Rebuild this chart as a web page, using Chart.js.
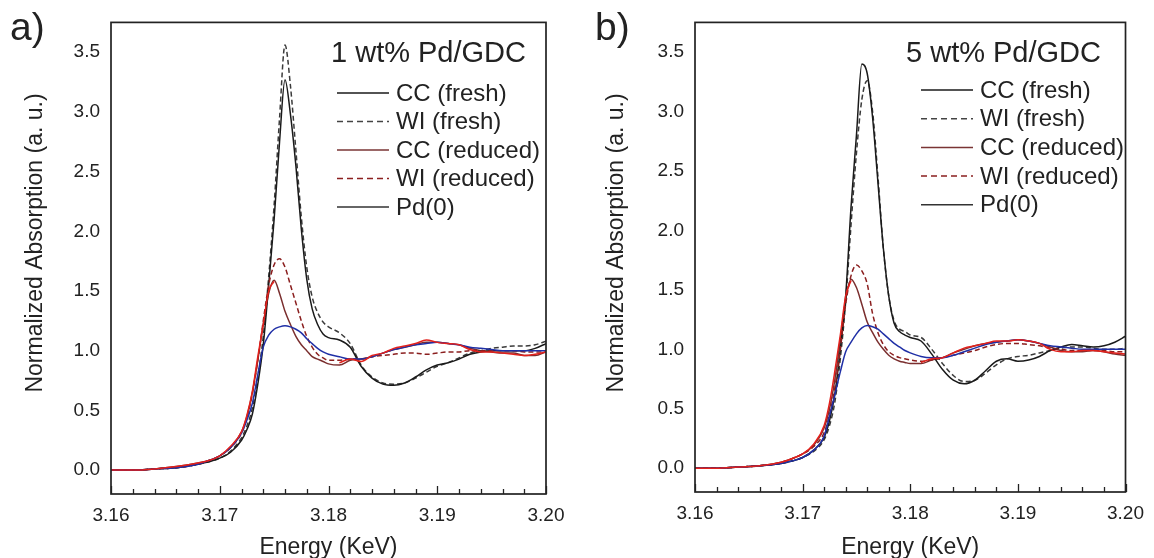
<!DOCTYPE html>
<html>
<head>
<meta charset="utf-8">
<script src="https://cdn.jsdelivr.net/npm/chart.js@4.4.1/dist/chart.umd.min.js"></script>
<style>
  body { margin: 0; background: #fff; width: 1154px; height: 558px; overflow: hidden; position: relative; }
  canvas { position: absolute; top: 0; }
</style>
</head>
<body>
<canvas id="panelA" width="577" height="558" style="left:0"></canvas>
<canvas id="panelB" width="577" height="558" style="left:577px"></canvas>
<script>
// Energy grid (KeV), shared by both panels
const energy = [
  3.160, 3.162, 3.164, 3.166, 3.168,
  3.169, 3.170, 3.171, 3.172,
  3.1725, 3.173, 3.1735, 3.174, 3.1745, 3.175, 3.1755, 3.176, 3.1765, 3.177, 3.1775, 3.178, 3.1785, 3.179, 3.1795, 3.180,
  3.181, 3.182, 3.183, 3.184, 3.185, 3.186, 3.187, 3.188, 3.189, 3.190,
  3.191, 3.192, 3.193, 3.194, 3.195, 3.196, 3.197, 3.198, 3.199, 3.200
];
const seriesNames = ['CC (fresh)', 'WI (fresh)', 'CC (reduced)', 'WI (reduced)', 'Pd(0)'];
const xTicks = [3.16, 3.17, 3.18, 3.19, 3.20];
const yTicks = [0, 0.5, 1.0, 1.5, 2.0, 2.5, 3.0, 3.5];

// a) 1 wt% Pd/GDC
const aCcFresh = [
  0.00, 0.00, 0.01, 0.02, 0.05,
  0.07, 0.10, 0.15, 0.25,
  0.34, 0.47, 0.72, 1.05, 1.55, 2.10, 2.75, 3.27, 2.98, 2.55, 2.02, 1.60, 1.35, 1.22, 1.14, 1.11,
  1.09, 1.03, 0.87, 0.77, 0.72, 0.71, 0.73, 0.78, 0.84, 0.88,
  0.90, 0.93, 0.97, 0.99, 1.00, 1.00, 1.00, 1.00, 1.02, 1.06
];
const aWiFresh = [
  0.00, 0.00, 0.01, 0.02, 0.05,
  0.07, 0.10, 0.16, 0.27,
  0.37, 0.52, 0.78, 1.12, 1.62, 2.22, 2.95, 3.56, 3.22, 2.68, 2.12, 1.70, 1.45, 1.32, 1.24, 1.20,
  1.15, 1.06, 0.88, 0.78, 0.73, 0.72, 0.73, 0.77, 0.82, 0.87,
  0.90, 0.94, 0.98, 1.00, 1.02, 1.03, 1.04, 1.04, 1.05, 1.08
];
const aCcReduced = [
  0.00, 0.00, 0.01, 0.03, 0.06,
  0.08, 0.12, 0.19, 0.32,
  0.45, 0.65, 0.92, 1.22, 1.48, 1.59, 1.48, 1.33, 1.22, 1.12, 1.05, 1.00, 0.95, 0.93, 0.91, 0.89,
  0.88, 0.92, 0.93, 0.95, 0.98, 1.01, 1.03, 1.05, 1.07, 1.07,
  1.06, 1.05, 1.02, 1.00, 0.99, 0.98, 0.98, 0.96, 0.96, 0.99
];
const aWiReduced = [
  0.00, 0.00, 0.01, 0.02, 0.05,
  0.08, 0.12, 0.19, 0.31,
  0.44, 0.64, 0.92, 1.25, 1.55, 1.72, 1.77, 1.70, 1.55, 1.40, 1.25, 1.12, 1.03, 0.97, 0.94, 0.92,
  0.92, 0.93, 0.93, 0.95, 0.96, 0.97, 0.98, 0.98, 0.97, 0.98,
  0.99, 0.99, 1.00, 1.00, 1.00, 1.00, 1.00, 0.99, 0.99, 0.99
];
const aPd0 = [
  0.00, 0.00, 0.01, 0.02, 0.05,
  0.08, 0.12, 0.19, 0.31,
  0.42, 0.56, 0.80, 1.03, 1.13, 1.18, 1.20, 1.21, 1.20, 1.18, 1.15, 1.10, 1.06, 1.02, 0.99, 0.97,
  0.95, 0.93, 0.93, 0.95, 0.98, 1.01, 1.03, 1.05, 1.06, 1.07,
  1.06, 1.05, 1.03, 1.02, 1.01, 1.00, 1.00, 1.00, 1.00, 1.00
];
// red trace drawn over the reduced CC curve (no legend entry)
const aOverlay = [
  0.00, 0.00, 0.01, 0.03, 0.06,
  0.08, 0.12, 0.20, 0.32,
  0.46, 0.66, 0.95, 1.22, 1.50, 1.58, null, null, null, null, null, null, null, null, null, null,
  0.90, 0.93, 0.91, 0.96, 0.98, 1.02, 1.04, 1.06, 1.09, 1.07,
  1.06, 1.05, 1.01, 0.99, 0.99, 0.98, 0.97, 0.96, 0.97, 0.99
];

// b) 5 wt% Pd/GDC
const bCcFresh = [
  0.00, 0.00, 0.01, 0.02, 0.04,
  0.06, 0.09, 0.15, 0.26,
  0.40, 0.63, 1.00, 1.45, 2.20, 2.80, 3.40, 3.32, 2.95, 2.40, 1.85, 1.45, 1.22, 1.15, 1.12, 1.10,
  1.07, 0.96, 0.83, 0.74, 0.71, 0.74, 0.82, 0.90, 0.92, 0.90,
  0.91, 0.94, 0.99, 1.02, 1.04, 1.03, 1.02, 1.03, 1.06, 1.11
];
const bWiFresh = [
  0.00, 0.00, 0.01, 0.02, 0.04,
  0.06, 0.09, 0.14, 0.24,
  0.36, 0.56, 0.92, 1.40, 2.05, 2.65, 3.10, 3.26, 3.00, 2.45, 1.85, 1.45, 1.24, 1.17, 1.15, 1.12,
  1.10, 1.00, 0.88, 0.78, 0.73, 0.74, 0.80, 0.87, 0.92, 0.94,
  0.95, 0.97, 0.99, 1.01, 1.02, 1.02, 1.01, 1.00, 1.00, 1.01
];
const bCcReduced = [
  0.00, 0.00, 0.01, 0.02, 0.05,
  0.08, 0.12, 0.19, 0.34,
  0.50, 0.75, 1.08, 1.42, 1.59, 1.52, 1.38, 1.23, 1.14, 1.06, 1.00, 0.95, 0.92, 0.90, 0.89, 0.88,
  0.88, 0.91, 0.93, 0.97, 1.00, 1.03, 1.05, 1.06, 1.07, 1.08,
  1.07, 1.05, 1.02, 0.99, 0.98, 0.98, 0.99, 0.98, 0.96, 0.95
];
const bWiReduced = [
  0.00, 0.00, 0.01, 0.02, 0.05,
  0.08, 0.12, 0.18, 0.30,
  0.45, 0.68, 1.00, 1.38, 1.62, 1.71, 1.66, 1.55, 1.30, 1.14, 1.04, 0.98, 0.95, 0.93, 0.92, 0.91,
  0.90, 0.91, 0.93, 0.95, 0.97, 0.99, 1.02, 1.04, 1.05, 1.05,
  1.04, 1.03, 1.01, 1.00, 0.99, 0.99, 0.99, 0.99, 0.98, 0.98
];
const bPd0 = [
  0.00, 0.00, 0.01, 0.02, 0.04,
  0.06, 0.09, 0.15, 0.27,
  0.44, 0.62, 0.81, 0.98, 1.06, 1.13, 1.18, 1.20, 1.19, 1.17, 1.13, 1.09, 1.05, 1.02, 0.99, 0.97,
  0.94, 0.93, 0.93, 0.95, 0.98, 1.01, 1.04, 1.06, 1.07, 1.08,
  1.07, 1.05, 1.03, 1.02, 1.01, 1.00, 1.00, 1.00, 1.00, 1.00
];
const bOverlay = [
  0.00, 0.00, 0.01, 0.02, 0.05,
  0.08, 0.12, 0.20, 0.36,
  0.55, 0.82, 1.12, 1.45, 1.58, null, null, null, null, null, null, null, null, null, null, null,
  0.89, 0.92, 0.93, 0.97, 1.01, 1.03, 1.05, 1.07, 1.07, 1.08,
  1.07, 1.05, 1.00, 0.98, 0.98, 0.99, 0.99, 0.98, 0.97, 0.96
];

const FONT = "'Liberation Sans', Arial, sans-serif";
const TEXT = '#222';

// legend swatch styles, one per seriesNames entry
const legendStyles = [
  { color: '#1a1a1a', dash: [] },
  { color: '#444', dash: [6, 4] },
  { color: '#7a3434', dash: [] },
  { color: '#8b1f1f', dash: [6, 4] },
  { color: '#333', dash: [] }
];

function series(values) {
  return energy.map((e, i) => ({ x: e, y: values[i] }));
}

// frame, inward ticks, labels, title and legend
const panelDecor = {
  id: 'panelDecor',
  afterDraw(chart, args, o) {
    const ctx = chart.ctx;
    const a = chart.chartArea;
    const x = chart.scales.x;
    ctx.save();

    ctx.strokeStyle = '#222';
    ctx.lineWidth = 1.3;
    for (let k = 0; k <= 20; k++) {
      const px = Math.round(x.getPixelForValue(xTicks[0] + k * 0.002)) + 0.5;
      const len = k % 5 === 0 ? 8 : 5;
      ctx.beginPath();
      ctx.moveTo(px, a.bottom);
      ctx.lineTo(px, a.bottom - len);
      ctx.stroke();
    }
    ctx.lineWidth = 1.7;
    ctx.strokeRect(a.left, a.top, a.right - a.left, a.bottom - a.top);

    ctx.fillStyle = TEXT;
    ctx.textBaseline = 'alphabetic';
    ctx.textAlign = 'left';
    ctx.font = '39px ' + FONT;
    ctx.fillText(o.letter, o.letterX, 40);

    ctx.textBaseline = 'middle';
    ctx.font = '29px ' + FONT;
    ctx.fillText(o.title, o.titleX, 54);

    // legend
    ctx.font = '24px ' + FONT;
    seriesNames.forEach((name, i) => {
      const y = o.legendY + i * o.legendGap;
      const s = legendStyles[i];
      ctx.strokeStyle = s.color;
      ctx.lineWidth = 1.5;
      ctx.setLineDash(s.dash);
      ctx.beginPath();
      ctx.moveTo(o.legendX, y);
      ctx.lineTo(o.legendX + 52, y);
      ctx.stroke();
      ctx.setLineDash([]);
      ctx.fillStyle = TEXT;
      ctx.fillText(name, o.legendX + 59, y + 1);
    });

    // axis titles
    ctx.textAlign = 'center';
    ctx.font = '23px ' + FONT;
    ctx.fillText('Energy (KeV)', (a.left + a.right) / 2, 548);
    ctx.translate(o.yTitleX, 243);
    ctx.rotate(-Math.PI / 2);
    ctx.fillText('Normalized Absorption (a. u.)', 0, 0);
    ctx.restore();
  }
};

function makePanel(id, p, values) {
  const styles = [
    { color: '#1a1a1a', dash: [], order: 3 },
    { color: '#3a3a3a', dash: [5, 3], order: 4 },
    { color: '#7a2e2e', dash: [], order: 5 },
    { color: '#8b1f1f', dash: [5, 3], order: 2 },
    { color: '#1f2fa6', dash: [], order: 1 },
    { color: '#e3211c', dash: [], order: 0 }
  ];
  const labels = seriesNames.concat(['overlay']);
  const datasets = values.map((v, i) => ({
    label: labels[i],
    data: series(v),
    borderColor: styles[i].color,
    borderDash: styles[i].dash,
    borderWidth: 1.5,
    order: styles[i].order,
    pointRadius: 0,
    fill: false,
    spanGaps: false
  }));

  new Chart(document.getElementById(id), {
    type: 'line',
    data: { datasets },
    options: {
      responsive: false,
      animation: false,
      devicePixelRatio: 1,
      layout: { padding: { left: 0, right: p.padRight, top: p.top, bottom: 0 } },
      elements: { line: { cubicInterpolationMode: 'monotone', borderJoinStyle: 'round' } },
      plugins: {
        legend: { display: false },
        tooltip: { enabled: false },
        panelDecor: p.decor
      },
      scales: {
        x: {
          type: 'linear',
          min: 3.16,
          max: 3.20,
          afterBuildTicks: s => { s.ticks = xTicks.map(v => ({ value: v })); },
          afterFit: s => { s.height = 558 - p.bottom; },
          grid: { display: false, drawTicks: false },
          border: { display: false },
          ticks: {
            autoSkip: false, maxRotation: 0, padding: 10, color: TEXT,
            font: { family: FONT, size: 19 },
            callback: v => Number(v).toFixed(2)
          }
        },
        y: {
          min: -0.2,
          max: 3.75,
          afterBuildTicks: s => { s.ticks = yTicks.map(v => ({ value: v })); },
          afterFit: s => { s.width = p.left; },
          grid: { display: false, drawTicks: false },
          border: { display: false },
          ticks: {
            padding: 11, color: TEXT,
            font: { family: FONT, size: 19 },
            callback: v => Number(v).toFixed(1)
          }
        }
      }
    },
    plugins: [panelDecor]
  });
}

makePanel('panelA',
  { left: 111, padRight: 31, top: 20, bottom: 494,
    decor: { letter: 'a)', letterX: 10, title: '1 wt% Pd/GDC', titleX: 331,
             legendX: 337, legendY: 93, legendGap: 28.5, yTitleX: 36 } },
  [aCcFresh, aWiFresh, aCcReduced, aWiReduced, aPd0, aOverlay]);

makePanel('panelB',
  { left: 118, padRight: 20, top: 18, bottom: 492,
    decor: { letter: 'b)', letterX: 18, title: '5 wt% Pd/GDC', titleX: 329,
             legendX: 344, legendY: 90, legendGap: 28.7, yTitleX: 40 } },
  [bCcFresh, bWiFresh, bCcReduced, bWiReduced, bPd0, bOverlay]);
</script>
</body>
</html>
